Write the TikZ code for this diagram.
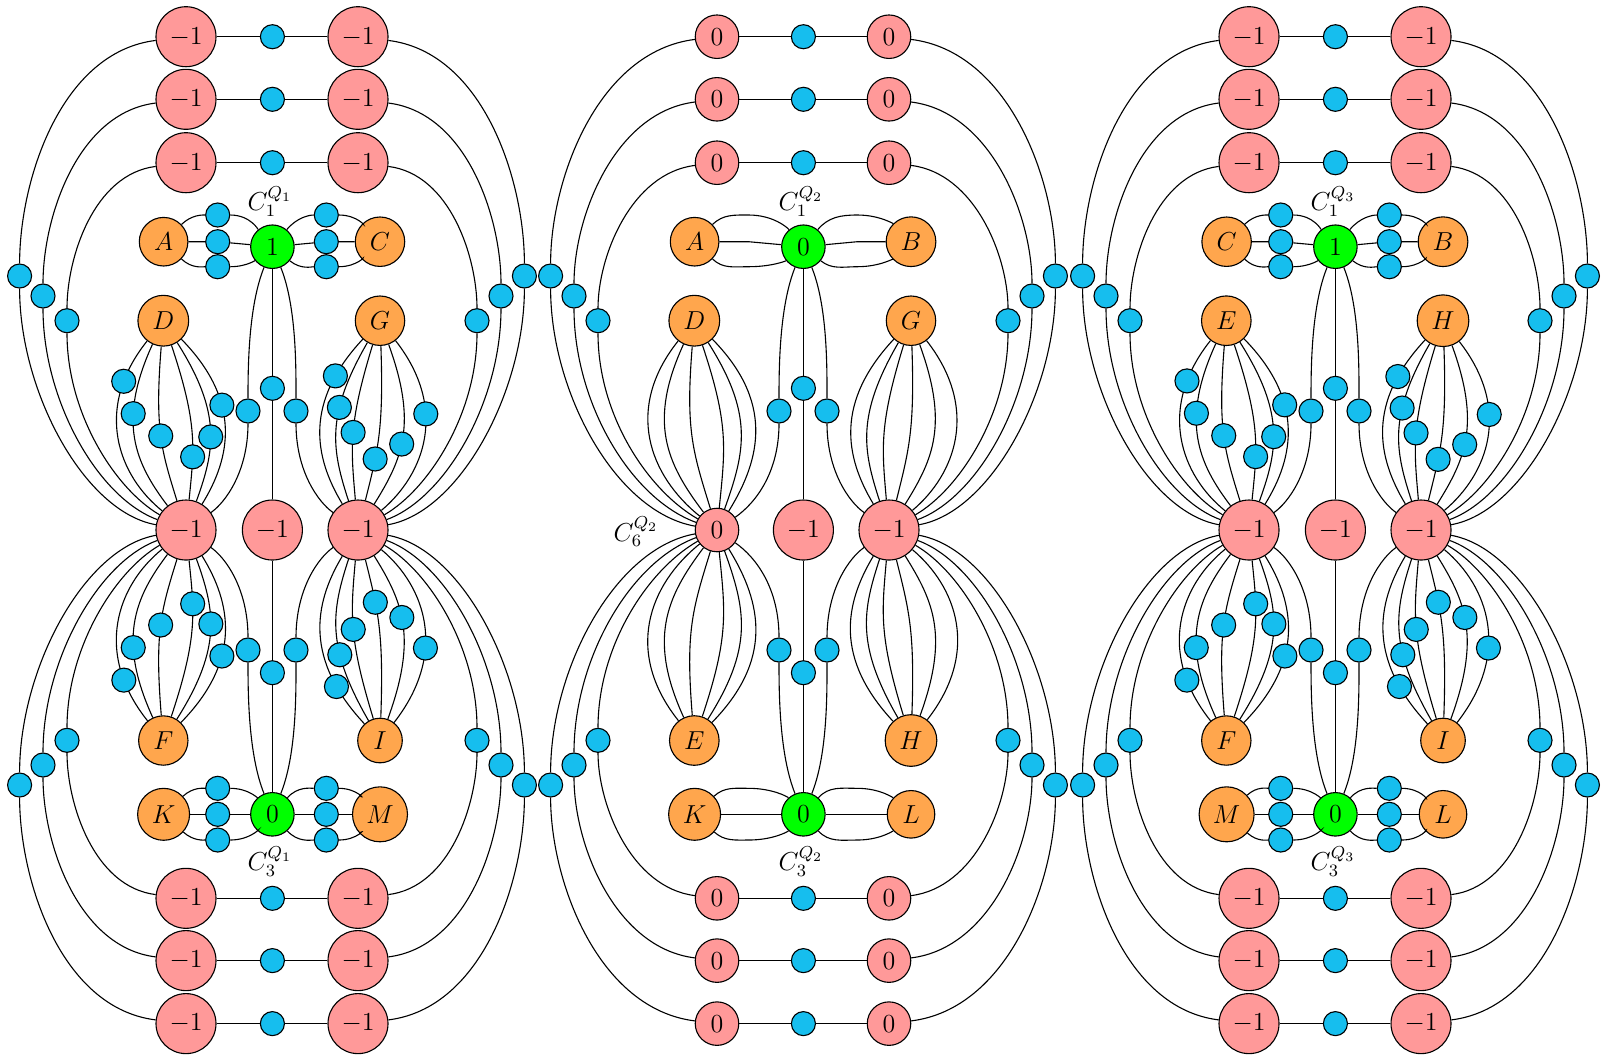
\documentclass[tikz,border=0pt]{standalone}
\definecolor{pinkc}{RGB}{255,153,153}
\definecolor{greenc}{RGB}{0,255,0}
\definecolor{orangec}{RGB}{255,166,77}
\definecolor{bluec}{RGB}{22,190,238}
\tikzset{
  pk/.style={circle,draw,fill=pinkc,inner sep=3.7pt},
  gr/.style={circle,draw,fill=greenc,inner sep=3.7pt},
  og/.style={circle,draw,fill=orangec,inner sep=3.7pt},
  bl/.style={circle,draw,fill=bluec,inner sep=0pt,minimum size=11.1pt},
  lab/.style={inner sep=0pt},
  arcl/.style={looseness=0.9},
  lens/.style={looseness=1.15},
}
\newif\ifblue
\def\setletters#1#2#3#4#5#6#7#8{\def\LA{#1}\def\LB{#2}\def\LD{#3}\def\LG{#4}\def\LF{#5}\def\LI{#6}\def\LK{#7}\def\LM{#8}}
\newcommand\drawpanel[5]{%
\begin{scope}[shift={(#1,0)},name prefix=P#2-]
  \foreach \k/\y in {1/36.7,2/99.3,3/162.7}{
    \node[pk] (TL\k) at (186,\y) {#3};
    \node[pk] (TR\k) at (358,\y) {#3};
    \node[bl] (TM\k) at (272.4,\y) {};
    \draw (TL\k) -- (TM\k) -- (TR\k);
  }
  \foreach \k/\y in {1/1023.6,2/960.6,3/898.3}{
    \node[pk] (BL\k) at (186,\y) {#3};
    \node[pk] (BR\k) at (358,\y) {#3};
    \node[bl] (BM\k) at (272.4,\y) {};
    \draw (BL\k) -- (BM\k) -- (BR\k);
  }
  \node[pk] (PL) at (186,530) {#4};
  \node[pk] (PC) at (272.4,530) {$-1$};
  \node[pk] (PR) at (358,530) {$-1$};
  \node[gr] (GT) at (272.4,246.7) {#5};
  \node[gr] (GW) at (272.4,814.3) {$0$};
  \node[lab] (LT) at (270,201.7) {$C_1^{Q_{#2}}$};
  \node[lab] (LW) at (270,861.7) {$C_3^{Q_{#2}}$};
  \node[og] (A) at (163.6,241.7) {$\LA$};
  \node[og] (C) at (380,241.7) {$\LB$};
  \node[og] (D) at (163.3,320.7) {$\LD$};
  \node[og] (G) at (380,320.7) {$\LG$};
  \node[og] (F) at (163.3,740.5) {$\LF$};
  \node[og] (I) at (380,740.5) {$\LI$};
  \node[og] (K) at (163.6,814.3) {$\LK$};
  \node[og] (M) at (380,814.3) {$\LM$};
  % outer arcs
  \foreach \k/\x/\xr/\yt/\yb/\ia/\ib/\ic/\id in {1/19.6/524.4/276/785/170/10/190/-10, 2/43/501/296/765/160/20/200/-20, 3/67/477/320.7/740.3/150/30/210/-30}{
    \node[bl] (OL\k) at (\x,\yt) {};
    \node[bl] (OR\k) at (\xr,\yt) {};
    \node[bl] (UL\k) at (\x,\yb) {};
    \node[bl] (UR\k) at (\xr,\yb) {};
    \draw (TL\k) to[arcl,out=187,in=90] (OL\k) to[arcl,out=-90,in=\ia] (PL);
    \draw (TR\k) to[arcl,out=-7,in=90] (OR\k) to[arcl,out=-90,in=\ib] (PR);
    \draw (BL\k) to[arcl,out=173,in=-90] (UL\k) to[arcl,out=90,in=\ic] (PL);
    \draw (BR\k) to[arcl,out=7,in=-90] (UR\k) to[arcl,out=90,in=\id] (PR);
  }
  % centre column
  \node[bl] (CU) at (272.4,388.3) {};
  \node[bl] (CD) at (272.4,672.7) {};
  \node[bl] (LU) at (248,411) {};
  \node[bl] (RU) at (296,411) {};
  \node[bl] (LD) at (248,650) {};
  \node[bl] (RD) at (296,650) {};
  \draw (GT) -- (CU) -- (PC) -- (CD) -- (GW);
  \draw (GT) to[out=-112,in=90,looseness=.75] (LU) to[out=-90,in=35] (PL);
  \draw (GT) to[out=-68,in=90,looseness=.75] (RU) to[out=-90,in=145] (PR);
  \draw (GW) to[out=112,in=-90,looseness=.75] (LD) to[out=90,in=-35] (PL);
  \draw (GW) to[out=68,in=-90,looseness=.75] (RD) to[out=90,in=-145] (PR);
  % small groups around the green nodes
  \ifblue
    \foreach \n/\y in {1/215,2/241.7,3/266.7}{
      \node[bl] (A\n) at (217.7,\y) {};
      \node[bl] (B\n) at (326.3,\y) {};
    }
    \foreach \n/\y in {1/788.3,2/814.3,3/840}{
      \node[bl] (K\n) at (217.7,\y) {};
      \node[bl] (M\n) at (326.3,\y) {};
    }
  \else
    \foreach \n/\y in {1/215,2/241.7,3/266.7}{
      \coordinate (A\n) at (217.7,\y);
      \coordinate (B\n) at (326.3,\y);
    }
    \foreach \n/\y in {1/788.3,2/814.3,3/840}{
      \coordinate (K\n) at (217.7,\y);
      \coordinate (M\n) at (326.3,\y);
    }
  \fi
  \draw (A) to[out=44,in=180] (A1) to[out=0,in=130] (GT);
  \draw (A) -- (A2) -- (GT);
  \draw (A) to[out=-44,in=180] (A3) to[out=0,in=-141] (GT);
  \draw (GT) to[out=50,in=180] (B1) to[out=0,in=134] (C);
  \draw (GT) -- (B2) -- (C);
  \draw (GT) to[out=-39,in=180] (B3) to[out=0,in=-136] (C);
  \draw (K) to[out=43,in=180] (K1) to[out=0,in=132] (GW);
  \draw (K) -- (K2) -- (GW);
  \draw (K) to[out=-42,in=180] (K3) to[out=0,in=-132] (GW);
  \draw (GW) to[out=48,in=180] (M1) to[out=0,in=137] (M);
  \draw (GW) -- (M2) -- (M);
  \draw (GW) to[out=-48,in=180] (M3) to[out=0,in=-137] (M);
  % lens bundles
  \ifblue
    \foreach \a/\p [count=\i] in {-45/.20,-31/.35,-11/.50,12/.69,26/.55,38/.37}{
      \pgfmathsetmacro\oo{-83.8+\a}\pgfmathsetmacro\ii{96.2-\a}
      \draw (D) to[lens,out=\oo,in=\ii] node[bl,pos=\p] (DX\i) {} (PL);
      \pgfmathsetmacro\oo{83.8-\a}\pgfmathsetmacro\ii{-96.2+\a}
      \draw (F) to[lens,out=\oo,in=\ii] node[bl,pos=\p] (FX\i) {} (PL);
    }
    \foreach \a/\p [count=\i] in {-37/.20,-24/.35,-11/.50,8/.69,26/.55,44/.37}{
      \pgfmathsetmacro\oo{-96+\a}\pgfmathsetmacro\ii{84-\a}
      \draw (G) to[lens,out=\oo,in=\ii] node[bl,pos=\p] (GX\i) {} (PR);
      \pgfmathsetmacro\oo{96-\a}\pgfmathsetmacro\ii{-84+\a}
      \draw (I) to[lens,out=\oo,in=\ii] node[bl,pos=\p] (IX\i) {} (PR);
    }
  \else
    \foreach \a in {-45,-31,-11,12,26,38}{
      \pgfmathsetmacro\oo{-83.8+\a}\pgfmathsetmacro\ii{96.2-\a}
      \draw (D) to[lens,out=\oo,in=\ii] (PL);
      \pgfmathsetmacro\oo{83.8-\a}\pgfmathsetmacro\ii{-96.2+\a}
      \draw (F) to[lens,out=\oo,in=\ii] (PL);
    }
    \foreach \a in {-37,-24,-11,8,26,44}{
      \pgfmathsetmacro\oo{-96+\a}\pgfmathsetmacro\ii{84-\a}
      \draw (G) to[lens,out=\oo,in=\ii] (PR);
      \pgfmathsetmacro\oo{96-\a}\pgfmathsetmacro\ii{-84+\a}
      \draw (I) to[lens,out=\oo,in=\ii] (PR);
    }
  \fi
\end{scope}}
\begin{document}
\begin{tikzpicture}[x=0.4615pt,y=-0.4615pt,line width=0.51pt,every node/.style={font=\fontsize{12}{14.4}\selectfont}]
\useasboundingbox (0,0) rectangle (1604,1057);
\bluetrue
\setletters{A}{C}{D}{G}{F}{I}{K}{M}
\drawpanel{0}{1}{$-1$}{$-1$}{$1$}
\bluefalse
\setletters{A}{B}{D}{G}{E}{H}{K}{L}
\drawpanel{531}{2}{$0$}{$0$}{$0$}
\node[lab] (C6) at (636,532) {$C_6^{Q_2}$};
\bluetrue
\setletters{C}{B}{E}{H}{F}{I}{M}{L}
\drawpanel{1063}{3}{$-1$}{$-1$}{$1$}
\end{tikzpicture}
\end{document}
